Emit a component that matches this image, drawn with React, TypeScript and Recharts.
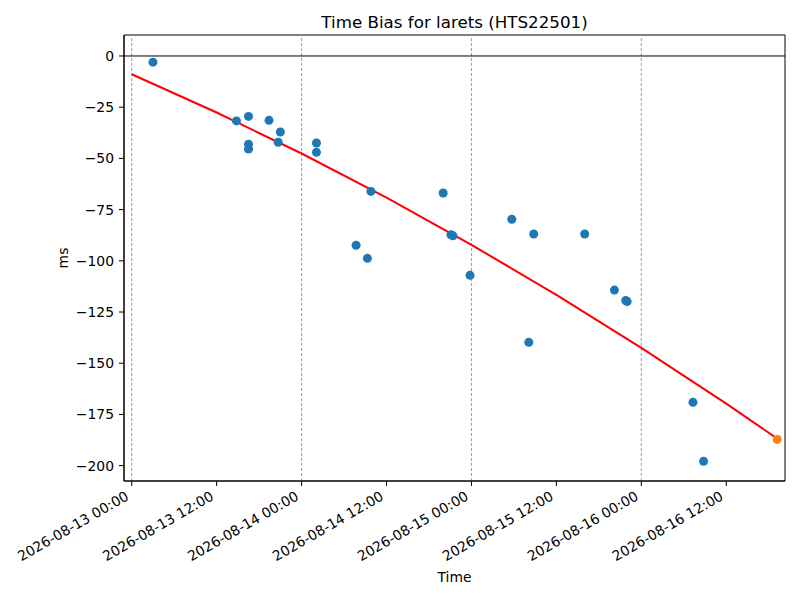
import React from "react";
import {
  ComposedChart,
  Scatter,
  Line,
  XAxis,
  YAxis,
  ReferenceLine,
  ReferenceArea,
} from "recharts";

// hours since 2026-08-13 00:00
const obsHours = [
  3.0, 14.8, 16.5, 16.5, 16.5, 19.4, 21.0, 20.7, 26.1, 26.1, 33.8, 31.7, 33.3,
  44.0, 45.1, 45.4, 47.8, 53.7, 56.8, 56.1, 64.0, 68.2, 69.8, 70.0, 79.3, 80.8,
];
const obsBias = [
  -3.0, -31.7, -29.5, -43.1, -45.4, -31.4, -37.1, -42.1, -42.5, -47.0, -66.1,
  -92.4, -98.8, -66.9, -87.3, -87.8, -107.1, -79.7, -86.9, -139.8, -86.9,
  -114.3, -119.4, -119.9, -169.1, -197.9,
];
const latestHours = [91.2];
const latestBias = [-187.2];

const fitHours = [0, 12, 24, 36, 48, 60, 72, 84, 91.2];
const fitBias = [-8.9, -27.6, -47.6, -69.2, -92.2, -116.6, -142.5, -169.7, -186.8];

const tickHours = [0, 12, 24, 36, 48, 60, 72, 84];
const tickLabels = [
  "2026-08-13 00:00",
  "2026-08-13 12:00",
  "2026-08-14 00:00",
  "2026-08-14 12:00",
  "2026-08-15 00:00",
  "2026-08-15 12:00",
  "2026-08-16 00:00",
  "2026-08-16 12:00",
];
const dayLines = [0, 24, 48, 72];
const yTicks = [0, -25, -50, -75, -100, -125, -150, -175, -200];

const X_DOMAIN = [-1.09, 92.3];
const Y_DOMAIN = [-207.5, 10.25];

const FONT = "DejaVu Sans, sans-serif";

const observed = obsHours.map((h, i) => ({ h, v: obsBias[i] }));
const latest = latestHours.map((h, i) => ({ h, v: latestBias[i] }));
const fit = fitHours.map((h, i) => ({ h, v: fitBias[i] }));

const dot = (color: string) => (props: any) =>
  <circle cx={props.cx} cy={props.cy} r={4.5} fill={color} />;

const XTick = (props: any) => {
  const { x, y, payload } = props;
  const i = tickHours.indexOf(payload.value);
  return (
    <g transform={`translate(${x - 2},${y + 13})`}>
      <text
        x={0}
        y={0}
        textAnchor="end"
        transform="rotate(-30)"
        fontSize={13.9}
        fontFamily={FONT}
        fill="#000"
      >
        {tickLabels[i]}
      </text>
    </g>
  );
};

export default function App() {
  return (
    <div style={{ position: "fixed", left: 0, top: 0, width: 800, height: 600, background: "#fff" }}>
      <ComposedChart
        width={800}
        height={600}
        margin={{ top: 35, right: 15, bottom: 29, left: 64 }}
      >
        <XAxis
          type="number"
          dataKey="h"
          domain={X_DOMAIN}
          ticks={tickHours}
          allowDataOverflow
          height={90}
          tickSize={5}
          tickMargin={0}
          tick={<XTick />}
          stroke="#000"
          interval={0}
        />
        <YAxis
          type="number"
          dataKey="v"
          domain={Y_DOMAIN}
          ticks={yTicks}
          allowDataOverflow
          width={60}
          tickSize={5}
          tickMargin={5}
          stroke="#000"
          interval={0}
          tick={{ fontSize: 13.9, fontFamily: FONT, fill: "#000" }}
          tickFormatter={(v: number) => String(v).replace("-", "\u2212")}
        />
        <ReferenceArea
          x1={X_DOMAIN[0]}
          x2={X_DOMAIN[1]}
          y1={Y_DOMAIN[0]}
          y2={Y_DOMAIN[1]}
          fill="none"
          stroke="#000"
          strokeWidth={1}
        />
        {dayLines.map((d) => (
          <ReferenceLine
            key={d}
            x={d}
            stroke="#4a90c8"
            strokeWidth={0.8}
            strokeDasharray="3 2"
          />
        ))}
        <ReferenceLine y={0} stroke="#000" strokeWidth={1} />
        <Line
          data={fit}
          dataKey="v"
          type="linear"
          stroke="#ff0000"
          strokeWidth={2}
          dot={false}
          activeDot={false}
          isAnimationActive={false}
        />
        <Scatter data={observed} dataKey="v" shape={dot("#1f77b4")} isAnimationActive={false} />
        <Scatter data={latest} dataKey="v" shape={dot("#ff7f0e")} isAnimationActive={false} />
      </ComposedChart>
      <svg
        width={800}
        height={600}
        style={{ position: "absolute", left: 0, top: 0, pointerEvents: "none" }}
      >
        <text x={454.5} y={28.3} textAnchor="middle" fontSize={16.7} fontFamily={FONT} fill="#000">
          Time Bias for larets (HTS22501)
        </text>
        <text x={454.5} y={581.7} textAnchor="middle" fontSize={13.9} fontFamily={FONT} fill="#000">
          Time
        </text>
        <text
          x={0}
          y={0}
          transform="translate(67.5,258) rotate(-90)"
          textAnchor="middle"
          fontSize={13.9}
          fontFamily={FONT}
          fill="#000"
        >
          ms
        </text>
      </svg>
    </div>
  );
}
